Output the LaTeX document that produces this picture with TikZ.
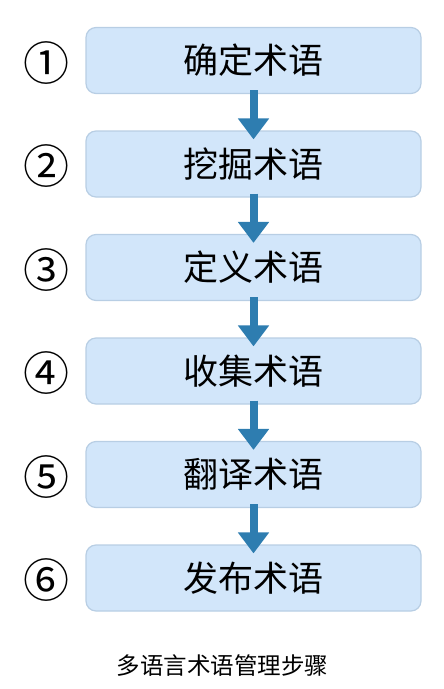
\documentclass[tikz,border=0pt]{standalone}
\usepackage{fontspec}
\usepackage{tikz}
\usetikzlibrary{arrows.meta, positioning}
\newfontfamily\cjk{Noto Sans CJK SC}
\definecolor{termblue}{RGB}{210,230,250}
\definecolor{termborder}{RGB}{184,206,228}
\definecolor{arrowblue}{RGB}{46,125,176}

\begin{document}
\begin{tikzpicture}[x=1pt,y=1pt,
    stepbox/.style={rectangle,draw=termborder,fill=termblue,line width=1.2pt,rounded corners=10pt,minimum width=335pt,minimum height=66pt,inner sep=0pt,font=\cjk\fontsize{35}{35}\selectfont},
    stepnum/.style={inner sep=0pt,font=\cjk\fontsize{46}{46}\selectfont},
    flow/.style={-{Triangle[width=30pt,length=21pt]},line width=8pt,arrowblue,shorten <=-4pt,shorten >=-9pt}]
    \useasboundingbox (0,0) rectangle (444,-689);

    % Passi
    \node[stepbox] (confirm) at (253.5,-60.5) {确定术语};
    \node[stepbox] (mine) at (253.5,-164) {挖掘术语};
    \node[stepbox] (define) at (253.5,-267.5) {定义术语};
    \node[stepbox] (collect) at (253.5,-371) {收集术语};
    \node[stepbox] (translate) at (253.5,-474.5) {翻译术语};
    \node[stepbox] (publish) at (253.5,-578) {发布术语};

    % Numeri
    \node[stepnum] (n1) at (46.5,-63) {①};
    \node[stepnum] (n2) at (46.5,-166.5) {②};
    \node[stepnum] (n3) at (46.5,-270) {③};
    \node[stepnum] (n4) at (46.5,-373.5) {④};
    \node[stepnum] (n5) at (46.5,-477) {⑤};
    \node[stepnum] (n6) at (46.5,-580.5) {⑥};

    % Frecce
    \draw[flow] (confirm) -- (mine);
    \draw[flow] (mine) -- (define);
    \draw[flow] (define) -- (collect);
    \draw[flow] (collect) -- (translate);
    \draw[flow] (translate) -- (publish);

    % Titolo
    \node[font=\cjk\fontsize{23.5}{23.5}\selectfont] (caption) at (222.5,-666) {多语言术语管理步骤};
\end{tikzpicture}
\end{document}
